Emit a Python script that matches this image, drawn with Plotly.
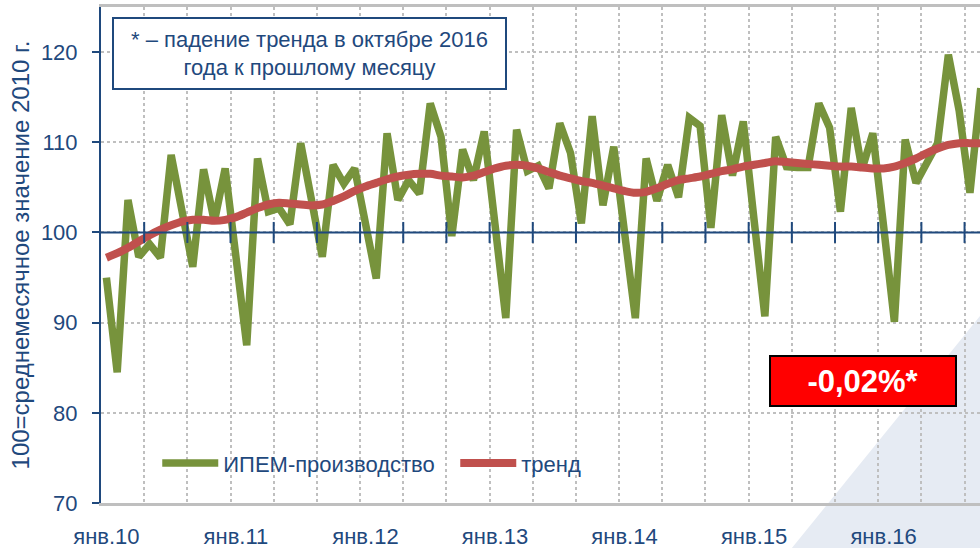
import plotly.graph_objects as go

# --- data (monthly, Jan 2010 .. Oct 2016) ---
ipem = [95.0, 84.5, 103.6, 97.3, 98.7, 97.2, 108.6, 102.3, 96.2, 107.0, 101.2, 107.1,
        97.8, 87.5, 108.2, 102.3, 102.7, 100.9, 109.9, 103.6, 97.3, 107.5, 105.4, 107.1,
        101.1, 94.9, 111.0, 103.6, 105.8, 104.3, 114.3, 110.6, 99.6, 109.2, 105.8, 111.2,
        100.9, 90.5, 111.4, 106.8, 107.4, 104.9, 112.1, 108.8, 101.0, 112.9, 103.0, 109.5,
        100.0, 90.5, 108.2, 103.5, 107.5, 103.9, 112.7, 111.8, 100.5, 113.0, 106.3, 112.3,
        101.4, 90.7, 110.6, 107.3, 107.2, 107.2, 114.3, 111.6, 102.3, 113.8, 107.0, 111.0,
        100.7, 90.1, 110.3, 105.5, 107.7, 109.9, 119.7, 113.5, 104.4, 116.0]
trend = [97.2, 97.7, 98.3, 99.0, 99.7, 100.3, 100.8, 101.2, 101.4, 101.4, 101.3, 101.4,
         101.7, 102.2, 102.7, 103.1, 103.3, 103.2, 103.1, 103.0, 103.1, 103.5, 104.0, 104.6,
         105.1, 105.5, 105.9, 106.2, 106.4, 106.5, 106.5, 106.3, 106.2, 106.1, 106.3, 106.7,
         107.1, 107.4, 107.5, 107.4, 107.1, 106.7, 106.3, 106.0, 105.7, 105.5, 105.2, 104.9,
         104.6, 104.4, 104.5, 104.9, 105.4, 105.8, 106.0, 106.2, 106.5, 106.8, 107.0, 107.3,
         107.5, 107.7, 107.9, 107.8, 107.7, 107.6, 107.5, 107.4, 107.3, 107.3, 107.2, 107.1,
         107.1, 107.3, 107.7, 108.2, 108.8, 109.3, 109.7, 109.9, 109.9, 109.88]
year_labels = ["янв.10", "янв.11", "янв.12", "янв.13", "янв.14", "янв.15", "янв.16"]
y_ticks = [70, 80, 90, 100, 110, 120]
series_names = ["ИПЕМ-производство", "тренд"]
y_title = "100=среднемесячное значение 2010 г."
note_text = "* – падение тренда в октябре 2016<br>года к прошлому месяцу"
badge_text = "-0,02%*"

# --- styles ---
NAVY = "#1F497D"
GREEN = "#77933C"
RED = "#C0504D"
GRID = "#BFBFBF"
FONT = "Liberation Sans, Arial, sans-serif"

x = list(range(len(ipem)))
year_pos = [12 * k for k in range(len(year_labels))]
grid_pos = [k - 0.5 for k in range(4, len(ipem), 4)]

fig = go.Figure()
fig.add_trace(go.Scatter(x=x, y=ipem, mode="lines", name=series_names[0],
                         line=dict(color=GREEN, width=7.5, shape="linear")))
fig.add_trace(go.Scatter(x=x, y=trend, mode="lines", name=series_names[1],
                         line=dict(color=RED, width=8, shape="spline", smoothing=0.8)))
# tick marks crossing the 100 line
fig.add_trace(go.Scatter(x=grid_pos, y=[100] * len(grid_pos), mode="markers",
                         showlegend=False, hoverinfo="skip",
                         marker=dict(symbol="line-ns", size=15,
                                     line=dict(color=NAVY, width=2))))

fig.update_layout(
    width=980, height=548,
    margin=dict(l=101, r=0, t=7, b=45),
    paper_bgcolor="white", plot_bgcolor="rgba(0,0,0,0)",
    font=dict(family=FONT, color=NAVY, size=22),
    showlegend=True,
    legend=dict(orientation="h", x=0.064, y=0.08, xanchor="left", yanchor="middle",
                bgcolor="rgba(0,0,0,0)", font=dict(size=22, color=NAVY, family=FONT),
                itemwidth=56, entrywidth=227),
    xaxis=dict(range=[-0.5, 80.93], tickmode="array", tickvals=year_pos,
               ticktext=year_labels, showgrid=False, zeroline=False,
               ticks="", ticklabelstandoff=12, automargin=False,
               tickfont=dict(size=22, color=NAVY, family=FONT),
               showline=True, linecolor=GRID, linewidth=2.5, mirror=True,
               minor=dict(tickmode="array", tickvals=grid_pos, showgrid=True,
                          gridcolor=GRID, griddash="dot", gridwidth=1.5, ticks="")),
    yaxis=dict(range=[70, 125], tickmode="array", tickvals=y_ticks,
               showgrid=True, gridcolor=GRID, griddash="dot", gridwidth=1.5,
               zeroline=False, showline=True, linecolor=NAVY, linewidth=2,
               ticks="outside", ticklen=7, tickwidth=2, tickcolor=NAVY,
               ticklabelstandoff=10, automargin=True,
               tickfont=dict(size=22, color=NAVY, family=FONT),
               title=dict(text=y_title,
                          font=dict(size=24, color=NAVY, family=FONT), standoff=4)),
)

# background decorative triangle (slide element)
fig.add_shape(type="path", xref="paper", yref="paper", layer="below",
              path="M 1.1365,0.675 L 0.786,-0.0907 L 1.1365,-0.0907 Z",
              fillcolor="#E6EBF3", line=dict(width=0))
# 100 reference line
fig.add_shape(type="line", xref="paper", yref="y", x0=0, x1=1, y0=100, y1=100,
              line=dict(color=NAVY, width=2))

fig.add_annotation(xref="paper", yref="paper", x=0.237, y=0.906,
                   xanchor="center", yanchor="middle",
                   text=note_text, showarrow=False, align="center",
                   font=dict(size=22, color=NAVY, family=FONT),
                   bgcolor="white", bordercolor=NAVY, borderwidth=2,
                   width=389, height=67)
fig.add_annotation(xref="paper", yref="paper", x=0.867, y=0.246,
                   xanchor="center", yanchor="middle",
                   text="<b>" + badge_text + "</b>", showarrow=False,
                   font=dict(size=31, color="white", family=FONT),
                   bgcolor="#FF0000", bordercolor="black", borderwidth=2,
                   width=182, height=46)

fig.write_html("out.html", config={"displayModeBar": False},
               post_script="document.body.style.margin='0px';")
